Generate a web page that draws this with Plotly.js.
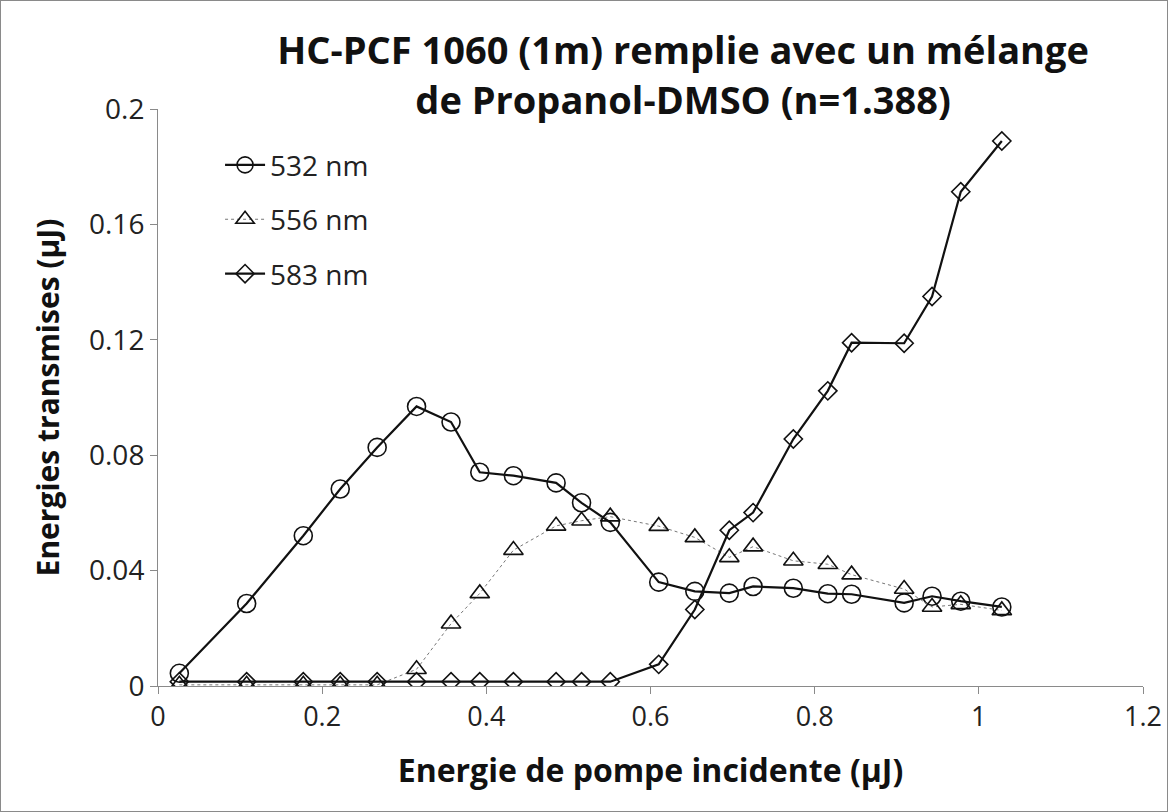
<!DOCTYPE html>
<html><head><meta charset="utf-8">
<script src="https://cdn.plot.ly/plotly-3.0.1.min.js"></script>
<style>html,body{margin:0;padding:0;background:#fff}#chart{width:1166px;height:810px;border:1px solid #8a8a8a}</style>
</head><body><div id="chart"></div>
<script>
const energyIn = [0.026, 0.108, 0.177, 0.222, 0.267, 0.315, 0.357, 0.392, 0.433, 0.485, 0.516, 0.551, 0.610, 0.654, 0.696, 0.725, 0.774, 0.816, 0.845, 0.909, 0.943, 0.978, 1.028];
const nm532 = [0.0044, 0.0286, 0.0521, 0.0683, 0.0827, 0.0969, 0.0915, 0.0741, 0.0729, 0.0704, 0.0635, 0.0567, 0.0360, 0.0328, 0.0322, 0.0345, 0.0339, 0.0320, 0.0318, 0.0288, 0.0311, 0.0294, 0.0274];
const nm556 = [0.0004, 0.0004, 0.0004, 0.0004, 0.0004, 0.0058, 0.0216, 0.0321, 0.0471, 0.0555, 0.0573, 0.0587, 0.0554, 0.0515, 0.0446, 0.0483, 0.0434, 0.0422, 0.0386, 0.0336, 0.0274, 0.0283, 0.0262];
const nm583 = [0.0015, 0.0015, 0.0015, 0.0015, 0.0015, 0.0015, 0.0015, 0.0015, 0.0015, 0.0015, 0.0015, 0.0015, 0.0075, 0.0265, 0.0540, 0.0601, 0.0856, 0.1023, 0.1190, 0.1188, 0.1350, 0.1713, 0.1889];
const seriesNames = ['532 nm', '556 nm', '583 nm'];
const xTicks = [0, 0.2, 0.4, 0.6, 0.8, 1, 1.2];
const xTickText = ['0', '0.2', '0.4', '0.6', '0.8', '1', '1.2'];
const yTicks = [0, 0.04, 0.08, 0.12, 0.16, 0.2];
const yTickText = ['0', '0.04', '0.08', '0.12', '0.16', '0.2'];

const FONT = 'Open Sans, Noto Sans, sans-serif';
const traces = [
  {x: energyIn, y: nm532, name: seriesNames[0], legendgroup: 'a', mode: 'lines+markers',
   line: {color: '#111', width: 2.2},
   marker: {symbol: 'circle-open', size: 18, color: '#111', line: {width: 1.6, color: '#111'}}},
  {x: energyIn, y: nm556, name: seriesNames[1], legendgroup: 'b', mode: 'lines+markers',
   line: {color: '#777', width: 1, dash: 'dot'},
   marker: {symbol: 'triangle-up-open', size: 17, color: '#111', line: {width: 1.6, color: '#111'}}},
  {x: energyIn, y: nm583, name: seriesNames[2], legendgroup: 'c', mode: 'lines+markers',
   line: {color: '#111', width: 2.2},
   marker: {symbol: 'diamond-open', size: 14, color: '#111', line: {width: 1.6, color: '#111'}}}
];
const layout = {
  width: 1166, height: 810,
  margin: {l: 157, r: 24, t: 108, b: 125},
  paper_bgcolor: '#fff', plot_bgcolor: '#fff',
  font: {family: FONT, color: '#222', size: 26},
  title: {text: '<b>HC-PCF 1060 (1m) remplie avec un mélange<br>de Propanol-DMSO (n=1.388)</b>',
          x: 0.585, xanchor: 'center', yref: 'container', y: 0.922, yanchor: 'middle',
          font: {family: FONT, size: 38, color: '#111'}},
  xaxis: {range: [0, 1.2], tickvals: xTicks, ticktext: xTickText, showgrid: false, zeroline: false,
          showline: true, linecolor: '#8a8a8a', linewidth: 1, ticks: 'outside', ticklen: 7, tickcolor: '#8a8a8a',
          tickfont: {family: FONT, size: 27, color: '#222'},
          title: {text: '<b>Energie de pompe incidente (µJ)</b>', font: {family: FONT, size: 32, color: '#111'}, standoff: 26}},
  yaxis: {range: [0, 0.2], tickvals: yTicks, ticktext: yTickText, showgrid: false, zeroline: false,
          showline: true, linecolor: '#8a8a8a', linewidth: 1, ticks: 'outside', ticklen: 7, tickcolor: '#8a8a8a',
          tickfont: {family: FONT, size: 28, color: '#222'},
          title: {text: '<b>Energies transmises (µJ)</b>', font: {family: FONT, size: 30, color: '#111'}, standoff: 20}},
  legend: {x: 0.063, y: 0.946, xanchor: 'left', yanchor: 'top', bgcolor: 'rgba(0,0,0,0)',
           font: {family: FONT, size: 28, color: '#222'}, tracegroupgap: 15, itemwidth: 40},
  showlegend: true
};
Plotly.newPlot('chart', traces, layout, {displayModeBar: false, staticPlot: true});
</script></body></html>
